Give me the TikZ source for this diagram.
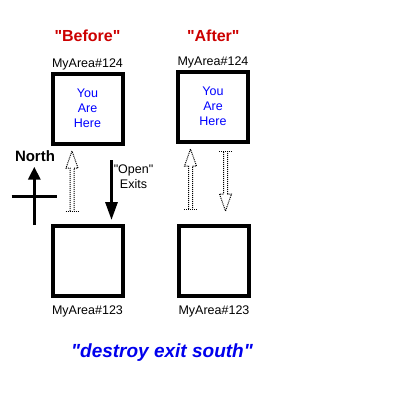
\documentclass[tikz,border=0pt]{standalone}
\usepackage{fontspec}
\setmainfont{Liberation Sans}[Ligatures=TeXOff]
\usetikzlibrary{arrows.meta,positioning}
\colorlet{titlecol}{red!80!black}
\colorlet{herecol}{blue}
\tikzset{>=latex}
\tikzstyle{room}=[draw,line width=4,minimum width=70,minimum height=70,inner sep=0,
                  font=\fontsize{12.5}{15}\selectfont,text=herecol,align=center]
\tikzstyle{label}=[font=\fontsize{12.5}{15}\selectfont,inner sep=0,anchor=base]
\tikzstyle{title}=[font=\fontsize{16}{18}\bfseries,text=titlecol,inner sep=0,anchor=base]
\tikzstyle{gone}=[line width=1,dash pattern=on 1pt off 1pt]
\tikzset{exit/.pic={ % open exit, tip at the origin
  \draw[gone] (-2,60) -- (-2,17) -- (-6,17) -- (0,0) -- (6,17) -- (2,17) -- (2,60);
  \draw[gone] (-6.5,60) -- (6.5,60);
}}

\begin{document}
\begin{tikzpicture}[x=1pt,y=-1pt]
  \useasboundingbox (0,0) rectangle (400,400);

  % BEFORE
  \node[title] at (87.5,41) {"Before"};
  \node[room] (btop) at (87.5,108.5) {You\\Are\\Here};
  \node[room] (bbot) at (87.5,260.5) {};
  \node[label,above=4.5pt of btop,anchor=base] (btopname) {MyArea\#124};
  \node[label,below=16.5pt of bbot,anchor=base] (bbotname) {MyArea\#123};
  \pic at (72,151) {exit};
  \draw[line width=3,-{Triangle[length=18,width=12]}] (111.5,160) -- (111.5,220);
  \node[label,align=center] (open) at (133.5,188) {"Open"\\Exits};

  % NORTH
  \node[label,font=\fontsize{15}{17}\bfseries] (north) at (35,161.7) {North};
  \draw[line width=3.5,-{Triangle[length=13,width=12]}] (34.3,225) -- (34.3,166.7);
  \draw[line width=3.5] (11.7,196.5) -- (56.7,196.5);

  % AFTER
  \node[title] at (213.3,41.7) {"After"};
  \node[room] (atop) at (213,106.5) {You\\Are\\Here};
  \node[room] (abot) at (214,260.5) {};
  \node[label,above=4.5pt of atop,anchor=base] (atopname) {MyArea\#124};
  \node[label,below=16.5pt of abot,anchor=base] (abotname) {MyArea\#123};
  \pic at (190.5,149) {exit};
  \pic[rotate=180] at (225.5,211) {exit};

  % COMMAND
  \node[anchor=base,inner sep=0,text=blue!93!black,font=\fontsize{19}{21}\bfseries\itshape] (cmd)
    at (162,357) {"destroy exit south"};
\end{tikzpicture}
\end{document}
